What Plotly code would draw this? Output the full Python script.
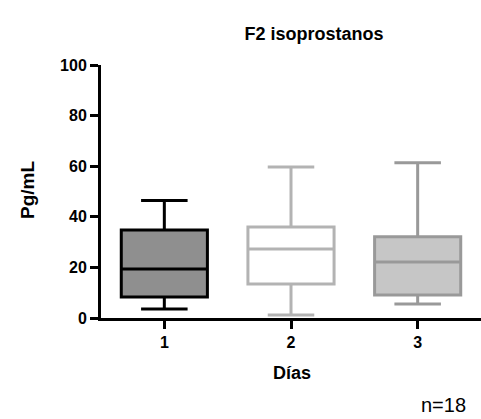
import plotly.graph_objects as go

days = [1, 2, 3]
day_labels = ["1", "2", "3"]
q1 = [8.3, 13.4, 9.1]
median = [19.4, 27.3, 22.1]
q3 = [34.8, 36.0, 32.1]
lower = [3.6, 1.2, 5.5]
upper = [46.4, 59.7, 61.4]
fills = ["#8f8f8f", "#ffffff", "#c6c6c6"]
lines = ["#000000", "#b3b3b3", "#999999"]

FONT = "Liberation Sans, Arial, sans-serif"

fig = go.Figure()
for i in range(3):
    fig.add_trace(go.Box(
        x=[days[i]], q1=[q1[i]], median=[median[i]], q3=[q3[i]],
        lowerfence=[lower[i]], upperfence=[upper[i]],
        width=0.68, whiskerwidth=0.54,
        fillcolor=fills[i], line=dict(color=lines[i], width=3),
        boxpoints=False, showlegend=False, hoverinfo="skip",
    ))

fig.update_layout(
    width=481, height=419,
    margin=dict(l=101, r=0, t=65, b=101, autoexpand=False),
    plot_bgcolor="white", paper_bgcolor="white",
    font=dict(family=FONT, color="black"),
    title=dict(text="<b>F2 isoprostanos</b>", x=0.653, xanchor="center",
               y=0.92, yanchor="middle", font=dict(size=18, family=FONT)),
    xaxis=dict(range=[0.5, 3.5], tickvals=days, ticktext=["<b>%s</b>" % t for t in day_labels],
               showline=True, linecolor="black", linewidth=3, ticks="outside",
               ticklen=8, tickwidth=3, tickcolor="black", showgrid=False, zeroline=False,
               automargin=False, tickfont=dict(size=16, family=FONT)),
    yaxis=dict(range=[0, 100], tickvals=[0, 20, 40, 60, 80, 100],
               ticktext=["<b>%d</b>" % v for v in [0, 20, 40, 60, 80, 100]],
               showline=True, linecolor="black", linewidth=3, ticks="outside",
               ticklen=8, tickwidth=3, tickcolor="black", showgrid=False, zeroline=False,
               automargin=False, tickfont=dict(size=16, family=FONT)),
    annotations=[
        dict(text="<b>Pg/mL</b>", x=(27 - 101) / 380, y=(318 - 190) / 253, textangle=-90,
             xref="paper", yref="paper", xanchor="center", yanchor="middle",
             showarrow=False, font=dict(size=19, family=FONT)),
        dict(text="<b>Días</b>", x=(292 - 101) / 380, y=(318 - 373) / 253,
             xref="paper", yref="paper", xanchor="center", yanchor="middle",
             showarrow=False, font=dict(size=18, family=FONT)),
        dict(text="n=18", x=(443 - 101) / 380, y=(318 - 405) / 253,
             xref="paper", yref="paper", xanchor="center", yanchor="middle",
             showarrow=False, font=dict(size=20, family=FONT)),
    ],
)
fig.write_html("out.html", config={"displayModeBar": False},
               post_script="document.body.style.margin='0';")
